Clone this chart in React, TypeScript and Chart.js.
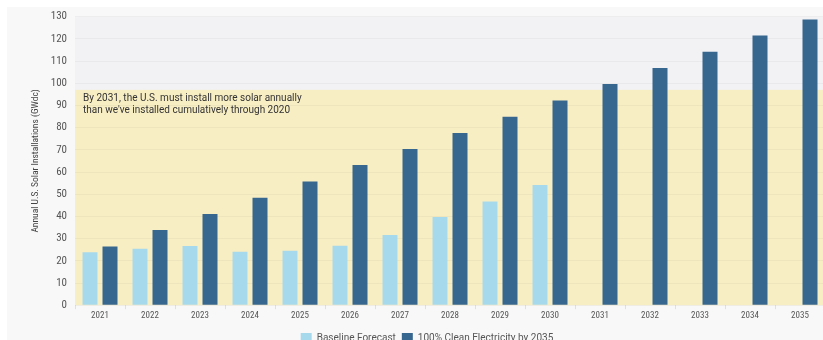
import React, { useEffect, useRef } from "react";
import { Chart, registerables } from "chart.js";

Chart.register(...registerables);

const years = ["2021","2022","2023","2024","2025","2026","2027","2028","2029","2030","2031","2032","2033","2034","2035"];
const baseline = [23.8, 25.4, 26.7, 24.1, 24.5, 26.8, 31.6, 39.7, 46.7, 54.1, null, null, null, null, null];
const cleanElectricity = [26.4, 33.9, 41.1, 48.4, 55.7, 63.1, 70.4, 77.6, 84.9, 92.2, 99.6, 106.9, 114.2, 121.5, 128.7];
const bandTop = 97;
const noteLines = [
  "By 2031, the U.S. must install more solar annually",
  "than we've installed cumulatively through 2020",
];

const FONT = "Roboto, 'Noto Sans', sans-serif";
const NARROW = "'Liberation Sans Narrow', 'Roboto Condensed', Roboto, sans-serif";

export default function App() {
  const ref = useRef<HTMLCanvasElement | null>(null);
  useEffect(() => {
    if (!ref.current) return;
    const bgPlugin = {
      id: "bgPlugin",
      beforeDraw(chart: any) {
        const { ctx, chartArea, scales } = chart;
        ctx.save();
        ctx.fillStyle = "#f8f8f8";
        ctx.fillRect(0, 0, chart.width, chart.height);
        ctx.fillStyle = "#ffffff";
        ctx.fillRect(0, 0, chart.width, 5);
        ctx.fillStyle = "#f2f2f4";
        ctx.fillRect(chartArea.left, chartArea.top, chartArea.right - chartArea.left, chartArea.bottom - chartArea.top);
        const yTop = scales.y.getPixelForValue(bandTop);
        const y0 = scales.y.getPixelForValue(0);
        ctx.fillStyle = "#f8eec4";
        ctx.fillRect(chartArea.left, yTop, chartArea.right - chartArea.left, y0 - yTop);
        ctx.restore();
      },
      afterDatasetsDraw(chart: any) {
        const { ctx, chartArea, scales } = chart;
        const yTop = scales.y.getPixelForValue(bandTop);
        ctx.save();
        ctx.fillStyle = "#333333";
        ctx.font = "10px " + FONT;
        ctx.textBaseline = "middle";
        ctx.textAlign = "left";
        noteLines.forEach((l, i) => {
          ctx.fillText(l, chartArea.left + 8, yTop + 8.5 + i * 12);
        });
        ctx.restore();
      },
    };
    const chart = new Chart(ref.current, {
      type: "bar",
      data: {
        labels: years,
        datasets: [
          {
            label: "Baseline Forecast",
            data: baseline as any,
            backgroundColor: "#a7d9ec",
            categoryPercentage: 0.8,
            barPercentage: 0.75,
          },
          {
            label: "100% Clean Electricity by 2035",
            data: cleanElectricity,
            backgroundColor: "#37668f",
            categoryPercentage: 0.8,
            barPercentage: 0.75,
          },
        ],
      },
      options: {
        animation: false,
        responsive: false,
        maintainAspectRatio: false,
        layout: { padding: 0 },
        plugins: {
          legend: {
            position: "bottom",
            labels: {
              boxWidth: 11,
              boxHeight: 10,
              color: "#555",
              font: { size: 10, family: FONT },
              padding: 6,
            },
          },
          tooltip: { enabled: false },
        },
        scales: {
          x: {
            afterFit(scale: any) { scale.height += 5; },
            grid: { drawOnChartArea: false, tickLength: 4, color: "#e0e0e0" },
            border: { display: false },
            ticks: { color: "#555", font: { size: 9, family: NARROW }, padding: 1 },
          },
          y: {
            min: 0,
            max: 130,
            afterFit(scale: any) { scale.width = 46; },
            grid: { color: "rgba(0,0,0,0.035)", drawTicks: false },
            border: { display: false },
            ticks: { stepSize: 10, color: "#555", font: { size: 11, family: NARROW }, padding: 8 },
            title: {
              display: true,
              text: "Annual U.S. Solar Installations (GWdc)",
              color: "#444",
              font: { size: 9.5, family: NARROW },
              padding: { top: 1, bottom: 0 },
            },
          },
        },
      },
      plugins: [bgPlugin],
    });
    return () => chart.destroy();
  }, []);
  return (
    <div style={{ position: "fixed", left: 0, top: 0, width: 823, height: 340, overflow: "hidden", background: "#ffffff" }}>
      <div style={{ position: "absolute", left: 7, top: 7, width: 830, height: 350, background: "#f8f8f8" }} />
      <canvas ref={ref} width={796} height={351} style={{ position: "absolute", left: 29, top: 2, width: 796, height: 351 }} />
    </div>
  );
}
